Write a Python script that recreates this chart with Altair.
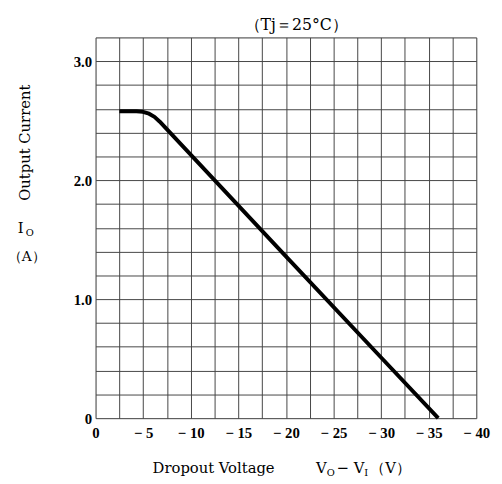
import altair as alt
import pandas as pd

# Curve data (Dropout voltage V, output current A)
curve_v = [-2.5, -4.3, -4.98, -5.62, -6.19, -6.72, -12.5, -20.0, -30.0, -36.0]
curve_i = [2.58, 2.58, 2.575, 2.559, 2.532, 2.494, 2.0, 1.36, 0.51, 0.0]

x_grid = [0, -2.5, -5, -7.5, -10, -12.5, -15, -17.5, -20, -22.5, -25, -27.5,
          -30, -32.5, -35, -37.5, -40]
y_grid = [0, 0.2, 0.4, 0.6, 0.8, 1.0, 1.2, 1.4, 1.6, 1.8, 2.0, 2.2, 2.4, 2.6,
          2.8, 3.0, 3.2]

title_text = "（Tj＝25°C）"
SERIF = "Liberation Serif"
WIDE = "DejaVu Serif"

df = pd.DataFrame({"v": curve_v, "i": curve_i})

W, H = 387, 387

base = alt.Chart(df)

line = base.mark_line(color="black", strokeWidth=4, strokeJoin="round").encode(
    x=alt.X("v:Q", scale=alt.Scale(domain=[0, -40], nice=False),
            axis=alt.Axis(values=x_grid, grid=True, gridColor="#444", gridWidth=1,
                          ticks=False, domain=False, title=None,
                          labelExpr="datum.value % 5 == 0 ? (datum.value == 0 ? '0' : '− ' + abs(datum.value)) : ''",
                          labelFont=SERIF, labelFontSize=15, labelColor="black",
                          labelFontWeight="bold",
                          labelPadding=8, labelFlush=False, labelOverlap=False)),
    y=alt.Y("i:Q", scale=alt.Scale(domain=[0, 3.2], nice=False),
            axis=alt.Axis(values=y_grid, grid=True, gridColor="#444", gridWidth=1,
                          ticks=False, domain=False, title=None,
                          labelExpr="abs(datum.value - round(datum.value)) < 1e-6 ? (datum.value == 0 ? '0' : format(datum.value, '.1f')) : ''",
                          labelFont=SERIF, labelFontSize=15, labelColor="black",
                          labelFontWeight="bold",
                          labelPadding=4, labelFlush=False, labelOverlap=False)),
)

def txt(t, x, y, size=15, angle=0, align="left", baseline="alphabetic", font=WIDE):
    return alt.Chart(pd.DataFrame({"t": [t]})).mark_text(
        font=font, fontSize=size, angle=angle, align=align, baseline=baseline,
        color="black"
    ).encode(text="t:N", x=alt.value(x), y=alt.value(y))

labels = [
    txt(title_text, 204, -8, size=16, align="center"),
    txt("Output Current", -72, 107, size=15, angle=270, align="center", baseline="middle"),
    txt("I", -79, 199, size=15),
    txt("O", -71, 202, size=10),
    txt("（A）", -70, 227, size=14, align="center"),
    txt("Dropout Voltage", 58, 443, size=15),
    txt("V", 224, 443, size=15),
    txt("O", 235, 446, size=10),
    txt("− V", 245, 443, size=15),
    txt("I", 273, 446, size=10),
    txt("（V）", 300, 443, size=15, align="center"),
]

chart = alt.layer(line, *labels).properties(
    width=W, height=H,
    autosize=alt.AutoSizeParams(type="none"),
    padding={"left": 89, "top": 26, "right": 18, "bottom": 62},
).configure_view(stroke="black", strokeWidth=2).configure(background="white")

chart.save("out.html", embed_options={"renderer": "svg", "actions": False})
